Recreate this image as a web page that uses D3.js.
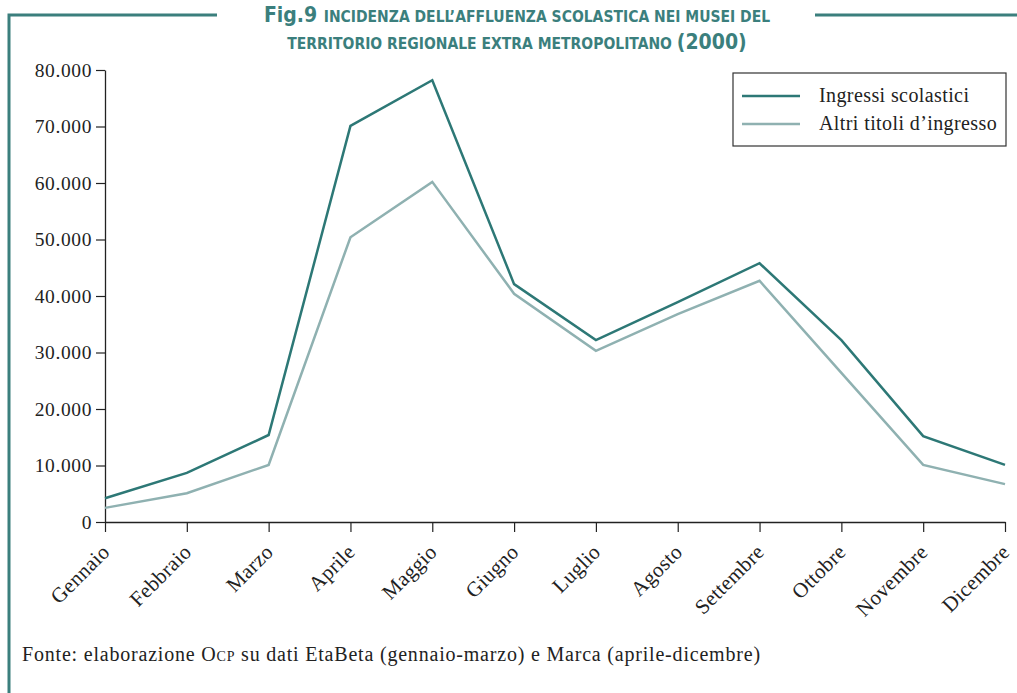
<!DOCTYPE html>
<html>
<head>
<meta charset="utf-8">
<script src="https://cdn.jsdelivr.net/npm/d3@7"></script>
<style>
  body { margin: 0; background: #fff; }
</style>
</head>
<body>
<div id="canvas"></div>
<script>
// Dimension and color constants.
const WIDTH = 1017;
const HEIGHT = 693;
const MARGIN = { left: 105, right: 12, top: 70, bottom: 171 };

const DARK_TEAL = "#2d7876";
const LIGHT_TEAL = "#8fb1b1";
const FRAME_COLOR = "#3b7f7d";
const SERIF = "'Liberation Serif', 'DejaVu Serif', serif";

// Data.
const months = ["Gennaio", "Febbraio", "Marzo", "Aprile", "Maggio", "Giugno",
                "Luglio", "Agosto", "Settembre", "Ottobre", "Novembre", "Dicembre"];
const ingressiScolastici = [4200, 8700, 15400, 70100, 78200, 42100,
                            32200, 38900, 45800, 32200, 15200, 10100];
const altriTitoli = [2500, 5100, 10100, 50400, 60200, 40400,
                     30300, 36800, 42700, 26400, 10100, 6700];
const yTicks = [0, 10000, 20000, 30000, 40000, 50000, 60000, 70000, 80000];
const seriesNames = ["Ingressi scolastici", "Altri titoli d\u2019ingresso"];

const svg = d3.select("#canvas")
              .append("svg")
              .attr("width", WIDTH)
              .attr("height", HEIGHT);

// Frame around the figure.
svg.append("path")
    .attr("d", "M9,693 V15 H217 M815,15 H1017")
    .attr("fill", "none")
    .attr("stroke", FRAME_COLOR)
    .attr("stroke-width", 3);

// Title.
const title = svg.append("text")
                .attr("text-anchor", "middle")
                .attr("fill", FRAME_COLOR)
                .attr("font-family", "'DejaVu Sans Condensed', 'DejaVu Sans', sans-serif")
                .attr("font-weight", "bold");
title.append("tspan")
    .attr("x", 517).attr("y", 22)
    .attr("font-size", 21).text("Fig.9 ")
  .append("tspan")
    .attr("font-size", 15.5).text("INCIDENZA DELL\u2019AFFLUENZA SCOLASTICA NEI MUSEI DEL");
const line2 = title.append("tspan")
    .attr("x", 517).attr("y", 49);
line2.append("tspan").attr("font-size", 15.5).text("TERRITORIO REGIONALE EXTRA METROPOLITANO ");
line2.append("tspan").attr("font-size", 21).text("(2000)");

// Scales.
const xScale = d3.scalePoint()
                .domain(months)
                .range([MARGIN.left, WIDTH - MARGIN.right]);
const yScale = d3.scaleLinear()
                .domain([0, 80000])
                .range([HEIGHT - MARGIN.bottom, MARGIN.top]);

const formatIt = d3.formatLocale({ decimal: ",", thousands: ".", grouping: [3], currency: ["", "€"] }).format(",d");

// Axes.
const xAxisGroup = svg.append("g")
                    .attr("transform", `translate(0, ${yScale(0)})`)
                    .call(d3.axisBottom(xScale).tickSize(10).tickSizeOuter(0).tickPadding(6));
const yAxisGroup = svg.append("g")
                    .attr("transform", `translate(${MARGIN.left}, 0)`)
                    .call(d3.axisLeft(yScale).tickValues(yTicks).tickFormat(formatIt).tickSize(9).tickSizeOuter(0).tickPadding(4));

[xAxisGroup, yAxisGroup].forEach(g => {
    g.select(".domain").attr("stroke", "#222").attr("stroke-width", 1.3);
    g.selectAll(".tick line").attr("stroke", "#222").attr("stroke-width", 1.2);
    g.selectAll("text").attr("font-family", SERIF).attr("fill", "#222");
});
yAxisGroup.selectAll("text").attr("font-size", 19.5).attr("letter-spacing", 0.6);

xAxisGroup.selectAll(".tick text")
    .attr("font-size", 21)
    .attr("letter-spacing", 0.3)
    .attr("text-anchor", "end")
    .attr("dy", 0)
    .attr("transform", "translate(-6, 20) rotate(-45)");

// Lines.
const line = d3.line()
              .x((d, i) => xScale(months[i]))
              .y(d => yScale(d));

svg.append("path")
    .datum(altriTitoli)
    .attr("d", line)
    .attr("fill", "none")
    .attr("stroke", LIGHT_TEAL)
    .attr("stroke-width", 2.5);

svg.append("path")
    .datum(ingressiScolastici)
    .attr("d", line)
    .attr("fill", "none")
    .attr("stroke", DARK_TEAL)
    .attr("stroke-width", 2.5);

// Legend.
const legend = svg.append("g").attr("transform", "translate(733, 73)");
legend.append("rect")
    .attr("width", 273).attr("height", 73)
    .attr("fill", "#fff").attr("stroke", "#333").attr("stroke-width", 1.2);
[DARK_TEAL, LIGHT_TEAL].forEach((c, i) => {
    legend.append("line")
        .attr("x1", 9).attr("x2", 67)
        .attr("y1", 23 + i * 28).attr("y2", 23 + i * 28)
        .attr("stroke", c).attr("stroke-width", 2.5);
    legend.append("text")
        .attr("x", 86).attr("y", 29 + i * 28)
        .attr("font-family", SERIF).attr("font-size", 20).attr("letter-spacing", 0.4).attr("fill", "#222")
        .text(seriesNames[i]);
});

// Source note.
const note = svg.append("text")
              .attr("x", 22).attr("y", 661)
              .attr("font-family", SERIF).attr("font-size", 20).attr("letter-spacing", 0.8).attr("fill", "#222");
note.append("tspan").text("Fonte:  elaborazione O");
note.append("tspan").attr("font-size", 14).text("CP");
note.append("tspan").text(" su dati EtaBeta (gennaio-marzo) e Marca (aprile-dicembre)");
</script>
</body>
</html>
